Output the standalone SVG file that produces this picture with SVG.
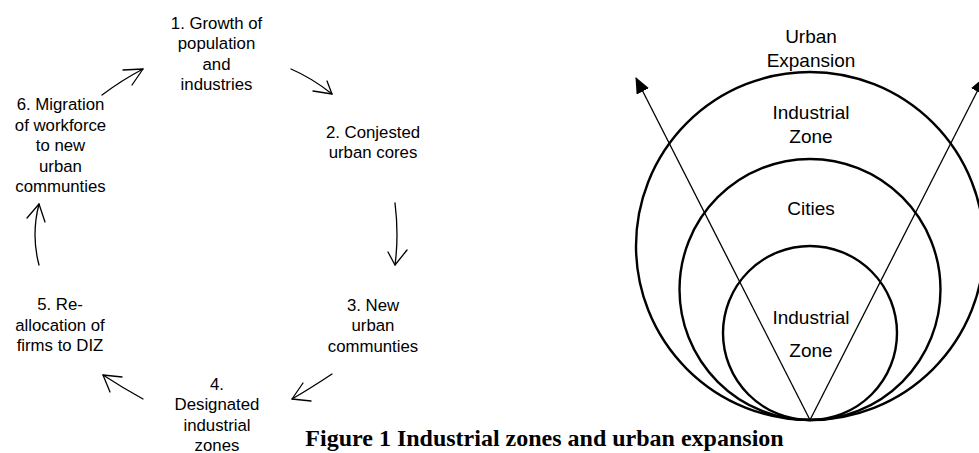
<svg xmlns="http://www.w3.org/2000/svg" width="979" height="453" viewBox="0 0 979 453">
  <style>
    .lbl { font-family: "Liberation Sans", Arial, sans-serif; font-size: 16.8px; fill: #000; text-anchor: middle; }
    .zlbl { font-family: "Liberation Sans", Arial, sans-serif; font-size: 19px; fill: #000; text-anchor: middle; }
    .cap { font-family: "Liberation Serif", "Times New Roman", serif; font-size: 24px; font-weight: bold; fill: #000; text-anchor: middle; }
    .cyc { fill: none; stroke: #000; stroke-width: 1.3; stroke-linecap: round; stroke-linejoin: round; }
    .ring { fill: none; stroke: #000; stroke-width: 2.4; }
    .ray { fill: none; stroke: #000; stroke-width: 1.3; }
  </style>
  <defs>
    <marker id="solidHead" viewBox="0 0 16 14" refX="15" refY="7" markerWidth="16" markerHeight="14" markerUnits="userSpaceOnUse" orient="auto">
      <path d="M0,0 L16,7 L0,14 Z" fill="#000"/>
    </marker>
  </defs>

  <!-- cycle steps -->
  <g id="step1">
    <text class="lbl"><tspan x="216.5" y="28.5">1. Growth of</tspan><tspan x="216.5" y="49">population</tspan><tspan x="216.5" y="69.5">and</tspan><tspan x="216.5" y="90">industries</tspan></text>
  </g>
  <g id="step2">
    <text class="lbl"><tspan x="373" y="137.5">2. Conjested</tspan><tspan x="373" y="158">urban cores</tspan></text>
  </g>
  <g id="step3">
    <text class="lbl"><tspan x="373" y="310.5">3. New</tspan><tspan x="373" y="331">urban</tspan><tspan x="373" y="351.5">communties</tspan></text>
  </g>
  <g id="step4">
    <text class="lbl"><tspan x="217" y="389.5">4.</tspan><tspan x="217" y="410">Designated</tspan><tspan x="217" y="430.5">industrial</tspan><tspan x="217" y="450.5">zones</tspan></text>
  </g>
  <g id="step5">
    <text class="lbl"><tspan x="60" y="310">5. Re-</tspan><tspan x="60" y="330.5">allocation of</tspan><tspan x="60" y="351">firms to DIZ</tspan></text>
  </g>
  <g id="step6">
    <text class="lbl"><tspan x="60.5" y="110">6. Migration</tspan><tspan x="60.5" y="130.5">of workforce</tspan><tspan x="60.5" y="151">to new</tspan><tspan x="60.5" y="171.5">urban</tspan><tspan x="60.5" y="192">communties</tspan></text>
  </g>

  <!-- cycle connectors with open arrowheads -->
  <g id="connectors">
    <path class="cyc" d="M291,69 Q312,78 332,94"/>
    <path class="cyc" d="M313,91 L332,94 L327,81"/>
    <path class="cyc" d="M395,203 Q399,235 395,265"/>
    <path class="cyc" d="M388,252 L395,265 L407,250"/>
    <path class="cyc" d="M332,374 Q311,388 292,399"/>
    <path class="cyc" d="M303,383 L292,399 L311,401"/>
    <path class="cyc" d="M143,399 Q123,388 103,375"/>
    <path class="cyc" d="M122,377 L103,375 L110,392"/>
    <path class="cyc" d="M39,265 Q31,235 39,204"/>
    <path class="cyc" d="M27,218 L39,204 L45,222"/>
    <path class="cyc" d="M102,95 Q122,80 143,69"/>
    <path class="cyc" d="M123,70 L143,69 L132,85"/>
  </g>

  <!-- nested zones touching at the base point -->
  <g id="outer-zone">
    <circle class="ring" cx="810" cy="246" r="174"/>
    <text class="zlbl"><tspan x="811" y="43.3">Urban</tspan><tspan x="811" y="66.7">Expansion</tspan></text>
    <text class="zlbl"><tspan x="811" y="119.3">Industrial</tspan><tspan x="811" y="143.3">Zone</tspan></text>
  </g>
  <g id="cities">
    <circle class="ring" cx="810" cy="289.5" r="130.5"/>
    <text class="zlbl" x="811" y="215">Cities</text>
  </g>
  <g id="inner-zone">
    <circle class="ring" cx="810" cy="333" r="87"/>
    <text class="zlbl"><tspan x="811" y="324.3">Industrial</tspan><tspan x="811" y="356.7">Zone</tspan></text>
  </g>

  <!-- expansion rays -->
  <g id="rays">
    <path class="ray" d="M810,420 L636,78" marker-end="url(#solidHead)"/>
    <path class="ray" d="M810,420 L984,78" marker-end="url(#solidHead)"/>
  </g>

  <text class="cap" x="544.5" y="446">Figure 1 Industrial zones and urban expansion</text>
</svg>
